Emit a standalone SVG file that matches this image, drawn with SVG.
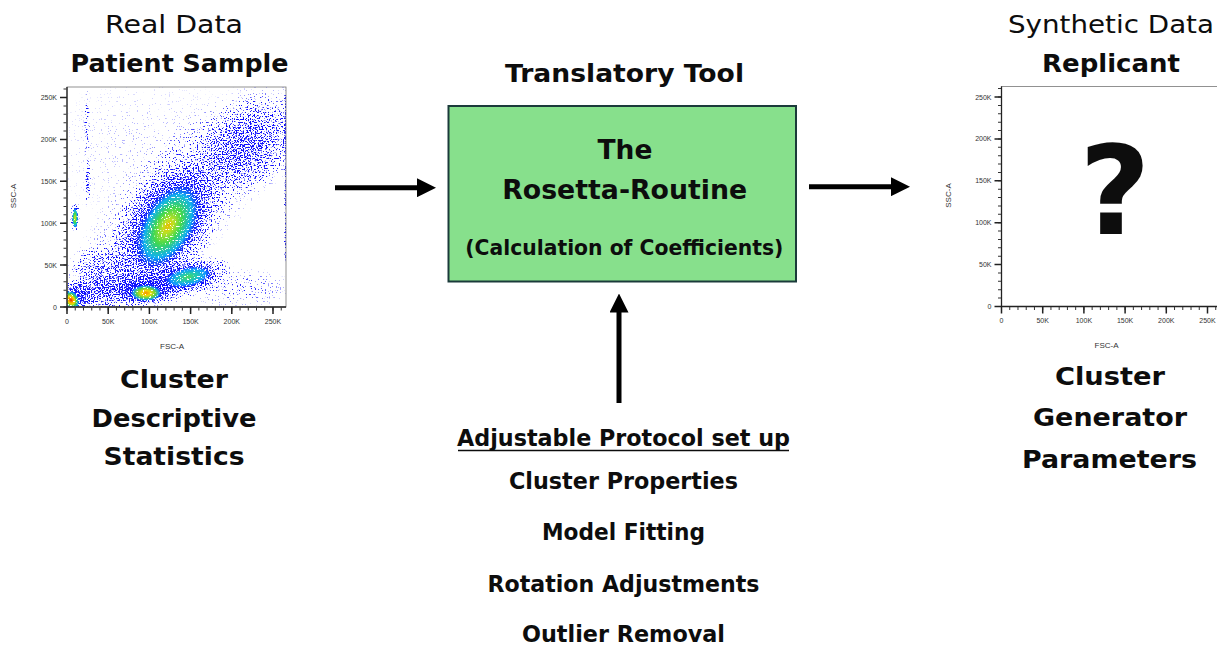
<svg xmlns="http://www.w3.org/2000/svg" xmlns:xlink="http://www.w3.org/1999/xlink" width="1217" height="645" viewBox="0 0 1217 645">
  <style>
    .r { font-family: 'DejaVu Sans', 'Liberation Sans', sans-serif; fill: #0d0d0d; text-anchor: middle; }
    .b { font-family: 'DejaVu Sans', 'Liberation Sans', sans-serif; font-weight: bold; fill: #0d0d0d; text-anchor: middle; }
    .tk { font-family: 'Liberation Sans', Arial, sans-serif; font-size: 7px; fill: #333; }
    .axl { font-family: 'Liberation Sans', Arial, sans-serif; font-size: 8px; fill: #333; text-anchor: middle; }
    .conn { stroke: #000; stroke-width: 5; fill: none; }
  </style>
  <defs>
    <marker id="arrowhead" markerUnits="userSpaceOnUse" viewBox="0 0 19 19" markerWidth="19" markerHeight="19" refX="1" refY="9.5" orient="auto">
      <path d="M0,0 L19,9.5 L0,19 Z" fill="#000"/>
    </marker>

    <!-- density falloff for the scatter cloud -->
    <radialGradient id="gBlue">
      <stop offset="0" stop-color="#1010ff" stop-opacity="1"/>
      <stop offset="0.35" stop-color="#1010ff" stop-opacity="0.85"/>
      <stop offset="0.7" stop-color="#1010ff" stop-opacity="0.45"/>
      <stop offset="1" stop-color="#1010ff" stop-opacity="0"/>
    </radialGradient>
    <!-- heat-map cores -->
    <radialGradient id="hHot">
      <stop offset="0" stop-color="#e41a08"/>
      <stop offset="0.2" stop-color="#ff8a00"/>
      <stop offset="0.4" stop-color="#eee000"/>
      <stop offset="0.6" stop-color="#40d048" stop-opacity="0.95"/>
      <stop offset="0.8" stop-color="#10c0f0" stop-opacity="0.75"/>
      <stop offset="1" stop-color="#2020ff" stop-opacity="0"/>
    </radialGradient>
    <radialGradient id="hOrange">
      <stop offset="0" stop-color="#f59000"/>
      <stop offset="0.3" stop-color="#f0dc00"/>
      <stop offset="0.6" stop-color="#60d840" stop-opacity="0.95"/>
      <stop offset="0.82" stop-color="#10c0f0" stop-opacity="0.75"/>
      <stop offset="1" stop-color="#2020ff" stop-opacity="0"/>
    </radialGradient>
    <radialGradient id="hWarm">
      <stop offset="0" stop-color="#e8b800"/>
      <stop offset="0.15" stop-color="#c0e020"/>
      <stop offset="0.42" stop-color="#40d850"/>
      <stop offset="0.72" stop-color="#10c4ec" stop-opacity="0.85"/>
      <stop offset="1" stop-color="#2020ff" stop-opacity="0"/>
    </radialGradient>
    <radialGradient id="hCool">
      <stop offset="0" stop-color="#50d860"/>
      <stop offset="0.35" stop-color="#20d0b0" stop-opacity="0.95"/>
      <stop offset="0.7" stop-color="#10b0ff" stop-opacity="0.8"/>
      <stop offset="1" stop-color="#2020ff" stop-opacity="0"/>
    </radialGradient>

    <!-- turns a smooth density field into individual event dots -->
    <filter id="speckle" filterUnits="userSpaceOnUse" x="67.5" y="87.5" width="218.5" height="219" color-interpolation-filters="sRGB">
      <feTurbulence type="fractalNoise" baseFrequency="0.72" numOctaves="1" seed="11" result="noise"/>
      <feColorMatrix in="noise" type="matrix" values="0 0 0 0 0  0 0 0 0 0  0 0 0 0 0  2.6 0 0 0 -0.8" result="grain"/>
      <feComposite in="grain" in2="SourceGraphic" operator="arithmetic" k1="0" k2="1" k3="1" k4="-1" result="level"/>
      <feComponentTransfer in="level" result="mask">
        <feFuncA type="linear" slope="5" intercept="0"/>
      </feComponentTransfer>
      <feColorMatrix in="SourceGraphic" type="matrix" values="1 0 0 0 0  0 1 0 0 0  0 0 1 0 0  0 0 0 0 1" result="solid"/>
      <feComposite in="solid" in2="mask" operator="in"/>
    </filter>

    <!-- FSC-A / SSC-A axes frame, drawn at the left plot position -->
    <g id="axes">
      <rect x="67" y="87" width="219" height="220" fill="none" stroke="#777" stroke-width="0.8"/>
      <line x1="67" y1="87" x2="67" y2="307.5" stroke="#222" stroke-width="1.3"/>
      <line x1="66.5" y1="307" x2="286" y2="307" stroke="#222" stroke-width="1.3"/>
      <!-- minor ticks every 10K -->
      <line x1="65" y1="307.5" x2="65" y2="87" stroke="#333" stroke-width="3" stroke-dasharray="1 7.38"/>
      <line x1="66.5" y1="309" x2="286" y2="309" stroke="#333" stroke-width="3" stroke-dasharray="1 7.24"/>
      <!-- major ticks every 50K -->
      <line x1="63.5" y1="307.75" x2="63.5" y2="90" stroke="#222" stroke-width="7" stroke-dasharray="1.5 40.4"/>
      <line x1="66.25" y1="310.5" x2="286" y2="310.5" stroke="#222" stroke-width="7" stroke-dasharray="1.5 39.7"/>
      <g class="tk" text-anchor="end">
        <text x="57" y="309.5">0</text>
        <text x="57" y="267.6">50K</text>
        <text x="57" y="225.7">100K</text>
        <text x="57" y="183.8">150K</text>
        <text x="57" y="141.9">200K</text>
        <text x="57" y="100">250K</text>
      </g>
      <g class="tk" text-anchor="middle">
        <text x="67" y="323.5">0</text>
        <text x="108.2" y="323.5">50K</text>
        <text x="149.4" y="323.5">100K</text>
        <text x="190.6" y="323.5">150K</text>
        <text x="231.8" y="323.5">200K</text>
        <text x="273" y="323.5">250K</text>
      </g>
      <text class="axl" x="172" y="348.5">FSC-A</text>
      <text class="axl" x="16" y="196" transform="rotate(-90 16 196)">SSC-A</text>
    </g>
  </defs>

  <rect width="1217" height="645" fill="#fff"/>

  <!-- Real data: patient sample plot -->
  <g id="real-data">
    <text class="r" x="174" y="33" font-size="25" textLength="138" lengthAdjust="spacingAndGlyphs">Real Data</text>
    <text class="b" x="179.5" y="72" font-size="25" textLength="218" lengthAdjust="spacingAndGlyphs">Patient Sample</text>
    <rect x="67" y="87" width="219" height="220" fill="#fff"/>
    <g filter="url(#speckle)">
      <!-- very sparse events over the upper area -->
      <ellipse cx="150" cy="150" rx="110" ry="80" fill="url(#gBlue)" fill-opacity="0.07"/>
      <!-- events along the diagonal -->
      <ellipse cx="188" cy="192" rx="160" ry="58" transform="rotate(-45 188 192)" fill="url(#gBlue)" fill-opacity="0.3"/>
      <ellipse cx="238" cy="288" rx="58" ry="22" fill="url(#gBlue)" fill-opacity="0.2"/>
      <!-- upper right cloud -->
      <ellipse cx="250" cy="145" rx="60" ry="48" transform="rotate(-40 250 145)" fill="url(#gBlue)" fill-opacity="0.42"/>
      <!-- main population -->
      <ellipse cx="166" cy="228" rx="80" ry="48" transform="rotate(-58 166 228)" fill="url(#gBlue)" fill-opacity="0.72"/>
      <!-- low band -->
      <ellipse cx="135" cy="290" rx="90" ry="20" transform="rotate(-6 135 290)" fill="url(#gBlue)" fill-opacity="0.55"/>
      <ellipse cx="100" cy="272" rx="35" ry="30" fill="url(#gBlue)" fill-opacity="0.4"/>
      <ellipse cx="192" cy="275" rx="42" ry="18" transform="rotate(-14 192 275)" fill="url(#gBlue)" fill-opacity="0.65"/>
      <ellipse cx="146" cy="292" rx="30" ry="14" fill="url(#gBlue)" fill-opacity="0.7"/>
      <ellipse cx="76" cy="296" rx="19" ry="17" fill="url(#gBlue)" fill-opacity="0.65"/>
      <!-- narrow populations near the SSC axis -->
      <ellipse cx="75" cy="216" rx="5" ry="18" fill="url(#gBlue)" fill-opacity="0.65"/>
      <ellipse cx="88" cy="183" rx="3" ry="27" fill="url(#gBlue)" fill-opacity="0.55"/>
      <ellipse cx="87" cy="125" rx="3" ry="38" fill="url(#gBlue)" fill-opacity="0.35"/>
      <!-- events piled at the FSC maximum -->
      <line x1="285.3" y1="95" x2="285.3" y2="262" stroke="#1010ff" stroke-width="1.3" stroke-opacity="0.6"/>
      <!-- dense cores -->
      <ellipse cx="168" cy="226" rx="48" ry="27" transform="rotate(-60 168 226)" fill="url(#hWarm)"/>
      <ellipse cx="188" cy="277" rx="25" ry="10.5" transform="rotate(-12 188 277)" fill="url(#hCool)"/>
      <ellipse cx="146" cy="293" rx="16" ry="8.5" fill="url(#hOrange)"/>
      <ellipse cx="71" cy="300" rx="8.5" ry="10.5" transform="rotate(-30 71 300)" fill="url(#hHot)"/>
      <ellipse cx="75" cy="218" rx="3.2" ry="11" fill="url(#hWarm)"/>
    </g>
    <use xlink:href="#axes"/>
    <text class="b" x="174" y="388" font-size="25" textLength="108" lengthAdjust="spacingAndGlyphs">Cluster</text>
    <text class="b" x="174" y="427" font-size="25" textLength="165" lengthAdjust="spacingAndGlyphs">Descriptive</text>
    <text class="b" x="174" y="465" font-size="25" textLength="141" lengthAdjust="spacingAndGlyphs">Statistics</text>
  </g>

  <!-- Translatory tool -->
  <g id="rosetta-routine">
    <text class="b" x="624.5" y="82" font-size="25" textLength="239" lengthAdjust="spacingAndGlyphs">Translatory Tool</text>
    <rect x="448.5" y="106" width="347.5" height="175.5" fill="#87e08c" stroke="#1b3a3a" stroke-width="2"/>
    <text class="b" x="625" y="159" font-size="26.5">The</text>
    <text class="b" x="624.7" y="198.5" font-size="26.5" textLength="245" lengthAdjust="spacingAndGlyphs">Rosetta-Routine</text>
    <text class="b" x="624.3" y="255" font-size="21" textLength="318" lengthAdjust="spacingAndGlyphs">(Calculation of Coefficients)</text>
  </g>

  <!-- Adjustable protocol -->
  <g id="protocol">
    <text class="b" x="623.5" y="446" font-size="23" textLength="333" lengthAdjust="spacingAndGlyphs">Adjustable Protocol set up</text>
    <line x1="458" y1="450.5" x2="789" y2="450.5" stroke="#0d0d0d" stroke-width="1.5"/>
    <text class="b" x="623.5" y="489" font-size="23" textLength="229" lengthAdjust="spacingAndGlyphs">Cluster Properties</text>
    <text class="b" x="623.5" y="540" font-size="23" textLength="163" lengthAdjust="spacingAndGlyphs">Model Fitting</text>
    <text class="b" x="623.5" y="591.5" font-size="23" textLength="272" lengthAdjust="spacingAndGlyphs">Rotation Adjustments</text>
    <text class="b" x="623.5" y="641.5" font-size="23" textLength="203" lengthAdjust="spacingAndGlyphs">Outlier Removal</text>
  </g>

  <!-- Synthetic data: replicant plot -->
  <g id="synthetic-data">
    <text class="r" x="1111" y="33" font-size="25" textLength="206" lengthAdjust="spacingAndGlyphs">Synthetic Data</text>
    <text class="b" x="1111" y="72" font-size="25" textLength="138" lengthAdjust="spacingAndGlyphs">Replicant</text>
    <use xlink:href="#axes" x="934.5" y="-0.5"/>
    <text class="b" x="1115" y="234" font-size="123">?</text>
    <text class="b" x="1110" y="385" font-size="25" textLength="110" lengthAdjust="spacingAndGlyphs">Cluster</text>
    <text class="b" x="1110" y="426" font-size="25" textLength="154" lengthAdjust="spacingAndGlyphs">Generator</text>
    <text class="b" x="1109.5" y="468" font-size="25" textLength="175" lengthAdjust="spacingAndGlyphs">Parameters</text>
  </g>

  <!-- connectors -->
  <g id="connectors">
    <line class="conn" x1="335" y1="187.7" x2="418" y2="187.7" marker-end="url(#arrowhead)"/>
    <line class="conn" x1="809" y1="186.7" x2="892" y2="186.7" marker-end="url(#arrowhead)"/>
    <line class="conn" x1="619" y1="403" x2="619" y2="311.5" marker-end="url(#arrowhead)"/>
  </g>
</svg>
